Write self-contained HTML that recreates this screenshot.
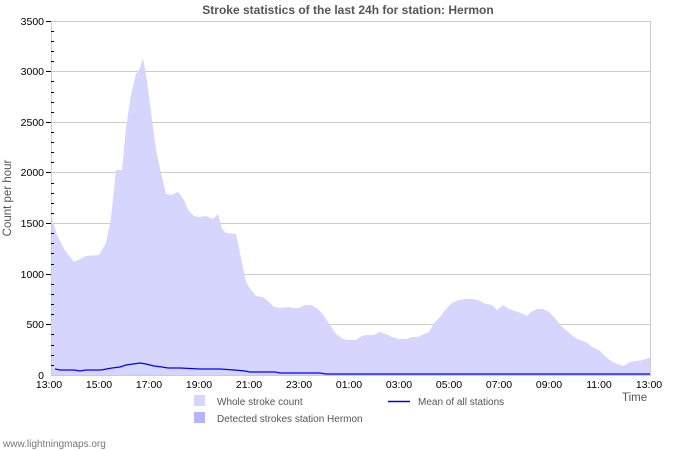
<!DOCTYPE html><html><head><style>body{margin:0;background:#fff}svg{display:block;font-family:"Liberation Sans","DejaVu Sans",sans-serif}</style></head><body>
<svg width="700" height="450" viewBox="0 0 700 450">
<text x="348" y="14" text-anchor="middle" font-size="12" font-weight="bold" fill="#555">Stroke statistics of the last 24h for station: Hermon</text>
<g stroke="#ccc" stroke-width="1">
<line x1="51" y1="21.5" x2="651" y2="21.5"/><line x1="51" y1="71.5" x2="651" y2="71.5"/><line x1="51" y1="122.5" x2="651" y2="122.5"/><line x1="51" y1="172.5" x2="651" y2="172.5"/><line x1="51" y1="223.5" x2="651" y2="223.5"/><line x1="51" y1="274.5" x2="651" y2="274.5"/><line x1="51" y1="324.5" x2="651" y2="324.5"/>
<line x1="650.5" y1="21" x2="650.5" y2="375"/>
</g>
<path fill="#d5d5fd" d="M51,375 L51,215 L57,235 L64,249 L74,262 L86,256 L99,255 L106,243 L111,218 L116,170 L122,170 L126,128 L131,95 L136,74 L140,68 L143,58 L147,81 L151,112 L156,150 L161,173 L166,194 L171,195 L178,192 L184,200 L188,210 L194,216 L199,217 L206,216 L213,219 L218,214 L222,229 L226,233 L236,234 L241,258 L246,282 L251,290 L256,296 L263,297 L268,301 L274,307 L281,308 L289,307 L293,308 L299,308 L305,305 L311,305 L318,309 L324,316 L330,325 L336,334 L343,339 L349,340 L356,340 L362,336 L368,335 L374,335 L380,332 L386,334 L392,337 L399,339 L406,339 L412,337 L418,337 L424,334 L429,332 L434,323 L440,317 L446,309 L452,303 L459,300 L466,299 L474,299 L480,301 L486,304 L492,305 L497,310 L503,305 L509,309 L515,311 L521,313 L527,316 L531,312 L537,309 L543,309 L549,312 L555,318 L561,326 L567,331 L574,337 L580,340 L586,342 L592,347 L599,350 L605,356 L611,361 L617,364 L624,366 L630,362 L636,361 L643,360 L649,358 L650,358 L650,375 Z"/>
<path fill="none" stroke="#00f" stroke-width="1.3" d="M55,369 L60,370 L74,370 L80,371 L86,370 L101,370 L112,368 L120,367 L126,365 L133,364 L140,363 L146,364 L154,366 L162,367 L168,368 L180,368 L190,368.5 L200,369 L220,369 L234,370 L245,371 L250,372 L275,372 L280,373 L320,373 L326,374 L650,374"/>
<line x1="51.5" y1="21" x2="51.5" y2="375" stroke="#ccc"/>
<line x1="51" y1="375.5" x2="651" y2="375.5" stroke="#ccc"/>
<g stroke="#000" stroke-width="1">
<path d="M51,31.5h3M51,41.5h3M51,51.5h3M51,61.5h3M51,81.5h3M51,92.5h3M51,102.5h3M51,112.5h3M51,132.5h3M51,142.5h3M51,152.5h3M51,162.5h3M51,183.5h3M51,193.5h3M51,203.5h3M51,213.5h3M51,233.5h3M51,243.5h3M51,253.5h3M51,264.5h3M51,284.5h3M51,294.5h3M51,304.5h3M51,314.5h3M51,334.5h3M51,345.5h3M51,355.5h3M51,365.5h3"/>
<path d="M46,21.5h5M46,71.5h5M46,122.5h5M46,172.5h5M46,223.5h5M46,274.5h5M46,324.5h5"/>
</g>
<g id="t"></g>
<g font-size="10.5" fill="#000" text-anchor="end">
<text x="44" y="25">3500</text><text x="44" y="75">3000</text><text x="44" y="126">2500</text><text x="44" y="176">2000</text><text x="44" y="227">1500</text><text x="44" y="278">1000</text><text x="44" y="328">500</text><text x="44" y="379">0</text>
</g>
<g font-size="10.5" fill="#000" text-anchor="middle">
<text x="49" y="388">13:00</text><text x="99" y="388">15:00</text><text x="149" y="388">17:00</text><text x="199" y="388">19:00</text><text x="249" y="388">21:00</text><text x="299" y="388">23:00</text><text x="349" y="388">01:00</text><text x="399" y="388">03:00</text><text x="449" y="388">05:00</text><text x="499" y="388">07:00</text><text x="549" y="388">09:00</text><text x="599" y="388">11:00</text><text x="649" y="388">13:00</text>
</g>
<text x="622" y="401" font-size="11.5" fill="#555">Time</text>
<text transform="translate(11,198) rotate(-90)" text-anchor="middle" font-size="11.5" fill="#555">Count per hour</text>
<rect x="194" y="395" width="11" height="11" fill="#d5d5fd"/>
<rect x="194" y="412" width="11" height="11" fill="#b5b5fb"/>
<text x="217" y="405" font-size="10" fill="#555">Whole stroke count</text>
<text x="217" y="422" font-size="10" fill="#555">Detected strokes station Hermon</text>
<line x1="388" y1="401.5" x2="410" y2="401.5" stroke="#00f" stroke-width="1.5"/>
<text x="418" y="405" font-size="10" fill="#555">Mean of all stations</text>
<text x="3" y="447" font-size="10" fill="#777">www.lightningmaps.org</text>
<script>
var g=document.getElementById('t'),s='';
for(var i=0;i<=24;i++){var x=51.5+i*25,l=(i%2==0)?6:3;s+='<line x1="'+x+'" y1="'+(375-l)+'" x2="'+x+'" y2="375" stroke="#000"/>';}
g.innerHTML=s;
</script>
</svg></body></html>
